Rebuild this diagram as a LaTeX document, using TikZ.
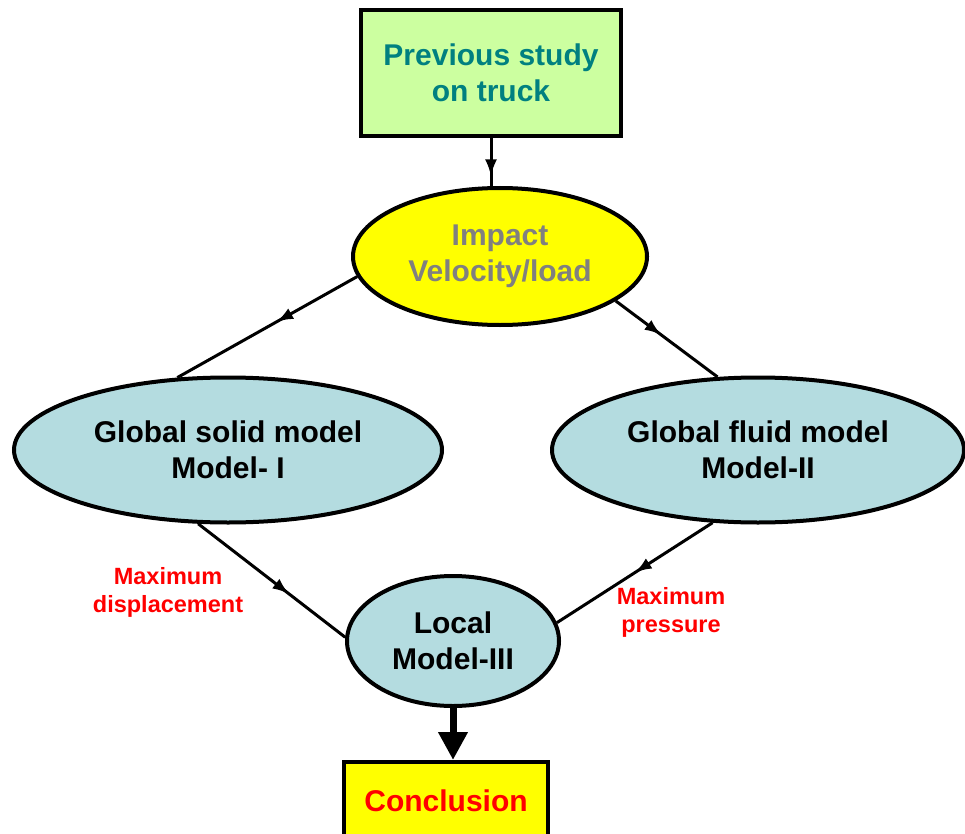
\documentclass[tikz,border=0pt]{standalone}
\usepackage{fontspec}
\setmainfont{Liberation Sans}
\usetikzlibrary{shapes.geometric,arrows.meta,decorations.markings}
\definecolor{boxgreen}{RGB}{204,255,160}
\definecolor{ellblue}{RGB}{180,220,224}
\definecolor{tealtxt}{RGB}{0,128,128}
\definecolor{txtgray}{RGB}{128,128,128}
\definecolor{lblred}{RGB}{255,0,0}
\definecolor{pureyellow}{RGB}{255,255,0}
\tikzset{
  bigtext/.style={font=\fontsize{30}{36}\selectfont\bfseries, align=center},
  lbltext/.style={font=\fontsize{23.5}{28}\selectfont\bfseries, align=center, text=lblred},
  oval/.style={ellipse, draw=black, line width=4pt, inner sep=0pt, bigtext},
  rectbox/.style={rectangle, draw=black, line width=4pt, inner sep=0pt, bigtext},
  conn/.style={draw=black, line width=3pt},
  midarrow/.style={postaction={decorate,decoration={markings,
      mark=at position #1 with {\arrow{Latex[length=17pt,width=12pt]}}}}},
}
\begin{document}
\begin{tikzpicture}[x=1pt,y=-1pt]
\useasboundingbox (0,0) rectangle (965,834);
\node[rectbox, fill=boxgreen, text=tealtxt, minimum width=260pt, minimum height=126pt] (prev) at (491,73) {Previous study\\on truck};
\node[oval, fill=pureyellow, text=txtgray, minimum width=294pt, minimum height=137pt] (imp) at (500,256.5) {Impact\\Velocity/load};
\node[oval, fill=ellblue, minimum width=428pt, minimum height=145pt] (gs) at (228,450) {Global solid model\\Model- I};
\node[oval, fill=ellblue, minimum width=412pt, minimum height=145pt] (gf) at (758,450) {Global fluid model\\Model-II};
\node[oval, fill=ellblue, minimum width=212pt, minimum height=130pt] (loc) at (453,641) {Local\\Model-III};
\node[rectbox, fill=pureyellow, text=lblred, minimum width=204pt, minimum height=78pt] (conc) at (446,801) {Conclusion};
\node[lbltext] (l1) at (168,592) {Maximum\\displacement};
\node[lbltext] (l2) at (671,612) {Maximum\\pressure};
\draw[conn, midarrow=0.8] (prev.south) -- (prev.south |- imp.north);
\draw[conn, midarrow=0.45] (imp.188) -- (gs.125);
\draw[conn, midarrow=0.45] (imp.339) -- (gf.119);
\draw[conn, midarrow=0.62] (gs.248) -- (loc.178);
\draw[conn, midarrow=0.5] (gf.238) -- (loc.10);
\draw[line width=7pt, -{Triangle[length=28pt,width=28pt]}] (loc.south) -- (loc.south |- conc.north);
\end{tikzpicture}
\end{document}
